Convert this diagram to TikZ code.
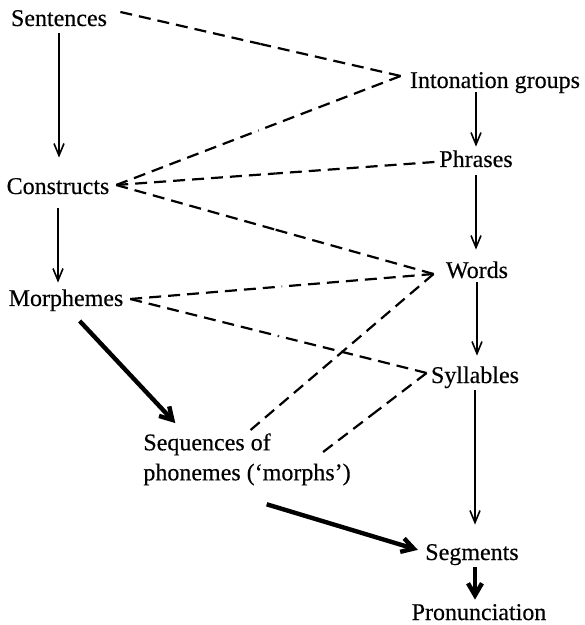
\documentclass[tikz,border=0pt]{standalone}
\usepackage{fontspec}
\setmainfont{Liberation Serif}[FakeBold=0.4]
\usetikzlibrary{arrows.meta,calc}
\begin{document}
\begin{tikzpicture}[x=0.5pt,y=-0.5pt,
  lbl/.style={inner sep=0pt,text height=8pt,text depth=0pt,anchor=base,font=\fontsize{12}{15}\selectfont},
  thin/.style={line width=0.8pt,-{Straight Barb[length=6pt,width=5pt]}},
  thick/.style={line width=2.2pt,-{Straight Barb[length=6pt,width=7pt]}},
  dl/.style={line width=1.1pt,dash pattern=on 6pt off 3.5pt}]
\useasboundingbox (0,0) rectangle (584,625);
\node[lbl] (sent)  at (59,26)  {Sentences};
\node[lbl] (cons)  at (58,194) {Constructs};
\node[lbl] (morph) at (66,306) {Morphemes};
\node[lbl] (int)   at (495,88) {Intonation groups};
\node[lbl] (phr)   at (476,167) {Phrases};
\node[lbl] (words) at (477,278) {Words};
\node[lbl] (syl)   at (475,383) {Syllables};
\node[inner sep=0pt,anchor=north west,align=left,font=\fontsize{12}{15}\selectfont] (seq) at (143,433) {Sequences of\\phonemes (‘morphs’)};
\node[lbl] (seg)   at (472,560) {Segments};
\node[lbl] (pron)  at (479,620) {Pronunciation};
% solid arrows
\draw[thin,shorten <=3.5pt,shorten >=10pt] (sent.south) -- (sent.south |- cons.north);
\draw[thin,shorten <=7pt,shorten >=3.5pt] (cons.south) -- (cons.south |- morph.north);
\draw[thin,shorten <=2pt,shorten >=2pt] (phr.north |- int.south) -- (phr.north);
\draw[thin,shorten <=4pt,shorten >=6pt] (phr.south) -- (phr.south |- words.north);
\draw[thin,shorten <=2pt,shorten >=5.5pt] (words.south) -- (words.south |- syl.north);
\draw[thin,shorten <=3.5pt,shorten >=9.5pt] (syl.south) -- (syl.south |- seg.north);
\draw[thick,shorten <=3.5pt,shorten >=2pt] ([xshift=1.5pt]seg.south) -- ([xshift=1.5pt]seg.south |- pron.north);
\draw[thick,shorten <=10pt,shorten >=6.8pt] (morph.south) -- ($(seq.north west)!0.2!(seq.north east)$);
\draw[thick,shorten <=32pt,shorten >=3.7pt] ($(seq.south west)!0.3!(seq.south east)$) -- (seg.west);
% convergence points
\coordinate (sentR)  at ([xshift=6.5pt,yshift=3pt]sent.east);
\coordinate (intL)   at ([xshift=-4.5pt,yshift=2pt]int.west);
\coordinate (consR)  at ([xshift=3.25pt,yshift=0.5pt]cons.east);
\coordinate (phrL)   at ([xshift=-2.25pt,yshift=-1.5pt]phr.west);
\coordinate (wordsL) at ([xshift=-6pt,yshift=-2pt]words.west);
\coordinate (morphR) at ([xshift=3.25pt,yshift=-0.5pt]morph.east);
\coordinate (sylL)   at ([xshift=-2pt,yshift=1pt]syl.west);
\coordinate (seqW)   at ([xshift=1.75pt,yshift=1.5pt]seq.north);
\coordinate (seqS)   at ([xshift=-14pt,yshift=-9.5pt]seq.north east);
\newcommand{\dline}[2]{\draw[dl] (#1) -- ($(#1)!0.5!(#2)$); \draw[dl] (#2) -- ($(#1)!0.5!(#2)$);}
\dline{sentR}{intL}
\dline{consR}{intL}
\dline{consR}{phrL}
\dline{consR}{wordsL}
\dline{morphR}{wordsL}
\dline{morphR}{sylL}
\dline{seqW}{wordsL}
\dline{seqS}{sylL}
\end{tikzpicture}
\end{document}
